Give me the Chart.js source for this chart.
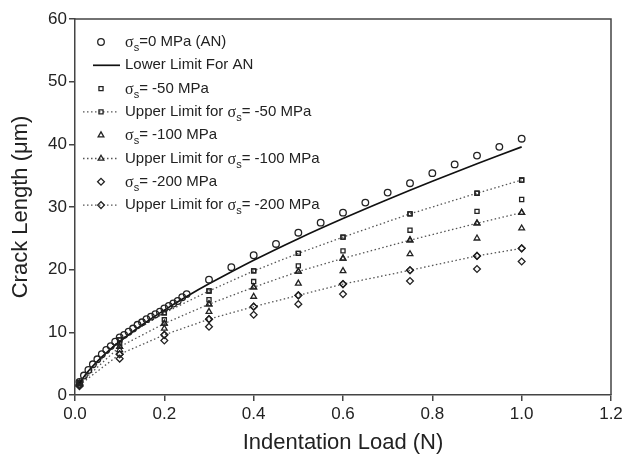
<!DOCTYPE html>
<html>
<head>
<meta charset="utf-8">
<title>Crack length vs indentation load</title>
<script src="https://cdn.jsdelivr.net/npm/chart.js@4.4.1/dist/chart.umd.min.js"></script>
<style>
  html, body { margin: 0; padding: 0; background: #fff; }
  #wrap { width: 637px; height: 457px; }
</style>
</head>
<body>
<div id="wrap"><canvas id="crackChart" width="637" height="457"></canvas></div>
<script>
// annealed sample (sigma_s = 0)
const loadAN = [0.01, 0.02, 0.03, 0.04, 0.05, 0.06, 0.07, 0.08, 0.09, 0.10,
                0.11, 0.12, 0.13, 0.14, 0.15, 0.16, 0.17, 0.18, 0.19, 0.20,
                0.21, 0.22, 0.23, 0.24, 0.25, 0.30, 0.35, 0.40, 0.45, 0.50,
                0.55, 0.60, 0.65, 0.70, 0.75, 0.80, 0.85, 0.90, 0.95, 1.00];
const crackAN = [2.1, 3.1, 4.0, 4.9, 5.7, 6.5, 7.2, 7.8, 8.5, 9.2,
                 9.6, 10.1, 10.6, 11.2, 11.6, 12.1, 12.5, 12.9, 13.3, 13.8,
                 14.2, 14.6, 15.0, 15.6, 16.1, 18.4, 20.4, 22.3, 24.1, 25.9,
                 27.5, 29.1, 30.7, 32.3, 33.8, 35.4, 36.8, 38.2, 39.6, 40.9];

// lower limit curve for AN
const loadLower = [0.01, 0.02, 0.03, 0.05, 0.075, 0.1, 0.15, 0.2, 0.25, 0.3, 0.4, 0.5, 0.6, 0.7, 0.8, 0.9, 1.0];
const crackLower = [1.84, 2.92, 3.83, 5.37, 7.04, 8.53, 11.18, 13.54, 15.72, 17.74, 21.5, 24.95, 28.16, 31.2, 34.1, 36.9, 39.6];

// stressed samples: two measurements per load, upper one sits on the upper-limit line
const loadStress = [0.01, 0.1, 0.2, 0.3, 0.4, 0.5, 0.6, 0.75, 0.9, 1.0];
const s50Hi  = [2.0, 8.8, 13.1, 16.6, 19.8, 22.6, 25.2, 28.9, 32.2, 34.3];
const s50Lo  = [1.9, 8.3, 12.0, 15.2, 18.1, 20.6, 23.0, 26.3, 29.3, 31.2];
const s100Hi = [1.8, 7.7, 11.4, 14.5, 17.2, 19.7, 21.8, 24.7, 27.4, 29.1];
const s100Lo = [1.7, 7.2, 10.6, 13.3, 15.7, 17.8, 19.8, 22.5, 25.0, 26.6];
const s200Hi = [1.6, 6.5, 9.6, 12.1, 14.1, 15.9, 17.7, 19.9, 22.2, 23.4];
const s200Lo = [1.4, 5.8, 8.7, 10.9, 12.8, 14.5, 16.1, 18.2, 20.1, 21.3];

const xTicks = [0, 0.2, 0.4, 0.6, 0.8, 1.0, 1.2];
const yTicks = [0, 10, 20, 30, 40, 50, 60];

const toXY = (xs, ys) => xs.map((x, i) => ({ x: x, y: ys[i] }));
const both = (lo, hi) => toXY(loadStress, hi).concat(toXY(loadStress, lo));

const INK = '#222';
const markerBase = { borderColor: INK, backgroundColor: 'rgba(255,255,255,0)', pointBorderWidth: 1.3, showLine: false };
const dotted = { borderColor: '#555', borderWidth: 1.3, borderDash: [1.5, 2.5], showLine: true, fill: false,
                 pointBorderColor: INK, pointBackgroundColor: 'rgba(255,255,255,0)', pointBorderWidth: 1.3 };

const datasets = [
    { ...markerBase, label: 'σs=0 MPa (AN)', data: toXY(loadAN, crackAN), pointStyle: 'circle', pointRadius: 3.3 },
    { label: 'Lower Limit For AN', data: toXY(loadLower, crackLower), showLine: true, borderColor: '#111',
      borderWidth: 1.7, pointRadius: 0, tension: 0.3 },
    { ...markerBase, label: 'σs= -50 MPa', data: both(s50Lo, s50Hi), pointStyle: 'rect', pointRadius: 2.9 },
    { ...dotted, label: 'Upper Limit for σs= -50 MPa', data: toXY(loadStress, s50Hi), pointStyle: 'rect', pointRadius: 2.9 },
    { ...markerBase, label: 'σs= -100 MPa', data: both(s100Lo, s100Hi), pointStyle: 'triangle', pointRadius: 3.3 },
    { ...dotted, label: 'Upper Limit for σs= -100 MPa', data: toXY(loadStress, s100Hi), pointStyle: 'triangle', pointRadius: 3.3 },
    { ...markerBase, label: 'σs= -200 MPa', data: both(s200Lo, s200Hi), pointStyle: 'rectRot', pointRadius: 3.4 },
    { ...dotted, label: 'Upper Limit for σs= -200 MPa', data: toXY(loadStress, s200Hi), pointStyle: 'rectRot', pointRadius: 3.4 }
];

// frame on top and right like the original plot
const frameBox = {
    id: 'frameBox',
    afterDraw(chart) {
        const { ctx, chartArea: a } = chart;
        ctx.save();
        ctx.strokeStyle = '#444';
        ctx.lineWidth = 1.5;
        ctx.beginPath();
        ctx.moveTo(a.left, a.top);
        ctx.lineTo(a.right, a.top);
        ctx.lineTo(a.right, a.bottom);
        ctx.stroke();
        ctx.restore();
    }
};

// legend inside the plot with the sigma subscript
const sigmaLegend = {
    id: 'sigmaLegend',
    afterDraw(chart) {
        const { ctx } = chart;
        const markX = 101, textX = 125;
        ctx.save();
        chart.data.datasets.forEach((ds, i) => {
            const y = 42 + i * 23.3;
            if (ds.showLine) {
                ctx.save();
                ctx.strokeStyle = ds.borderColor;
                ctx.lineWidth = ds.borderWidth;
                ctx.setLineDash(ds.borderDash || []);
                ctx.beginPath();
                if (ds.borderDash) { ctx.moveTo(83, y); ctx.lineTo(118, y); }
                else { ctx.moveTo(93, y); ctx.lineTo(120, y); }
                ctx.stroke();
                ctx.restore();
            }
            if (ds.pointRadius > 0) {
                ctx.save();
                ctx.strokeStyle = INK;
                ctx.fillStyle = 'rgba(255,255,255,0)';
                ctx.lineWidth = 1.3;
                Chart.helpers.drawPoint(ctx, { pointStyle: ds.pointStyle, radius: ds.pointRadius, rotation: 0, borderWidth: 1.3 }, markX, y);
                ctx.restore();
            }
            // text, with "σs" rendered as sigma + subscript s
            ctx.fillStyle = INK;
            ctx.textBaseline = 'middle';
            ctx.textAlign = 'left';
            const parts = ds.label.split('σs');
            let x = textX;
            parts.forEach((p, k) => {
                if (k > 0) {
                    ctx.font = '16px "Liberation Serif", serif';
                    ctx.fillText('σ', x, y + 1);
                    x += ctx.measureText('σ').width;
                    ctx.font = '11px "Liberation Sans", Arial, sans-serif';
                    ctx.fillText('s', x, y + 6);
                    x += ctx.measureText('s').width;
                }
                ctx.font = '15px "Liberation Sans", Arial, sans-serif';
                ctx.fillText(p, x, y);
                x += ctx.measureText(p).width;
            });
        });
        ctx.restore();
    }
};

const axisFont = { family: '"Liberation Sans", Arial, sans-serif', size: 17 };
const titleFont = { family: '"Liberation Sans", Arial, sans-serif', size: 22 };

new Chart(document.getElementById('crackChart'), {
    type: 'scatter',
    data: { datasets: datasets },
    options: {
        responsive: false,
        animation: false,
        layout: { padding: { top: 19, right: 26, left: 0, bottom: 0 } },
        plugins: { legend: { display: false }, tooltip: { enabled: false } },
        scales: {
            x: {
                type: 'linear', min: 0, max: 1.2,
                afterFit: s => { s.height = 62; },
                afterBuildTicks: s => { s.ticks = xTicks.map(v => ({ value: v })); },
                ticks: { callback: v => v.toFixed(1), color: INK, font: axisFont, padding: 3, maxRotation: 0 },
                grid: { drawOnChartArea: false, drawTicks: true, tickLength: 6, color: '#444', lineWidth: 1.5 },
                border: { color: '#444', width: 1.5 },
                title: { display: true, text: 'Indentation Load (N)', color: INK, font: titleFont, padding: { top: 0, bottom: 1 } }
            },
            y: {
                type: 'linear', min: 0, max: 60,
                afterFit: s => { s.width = 75; },
                afterBuildTicks: s => { s.ticks = yTicks.map(v => ({ value: v })); },
                ticks: { color: INK, font: axisFont, padding: 2 },
                grid: { drawOnChartArea: false, drawTicks: true, tickLength: 6, color: '#444', lineWidth: 1.5 },
                border: { color: '#444', width: 1.5 },
                title: { display: true, text: 'Crack Length (μm)', color: INK, font: titleFont, padding: { top: 8, bottom: 0 } }
            }
        }
    },
    plugins: [frameBox, sigmaLegend]
});
</script>
</body>
</html>
